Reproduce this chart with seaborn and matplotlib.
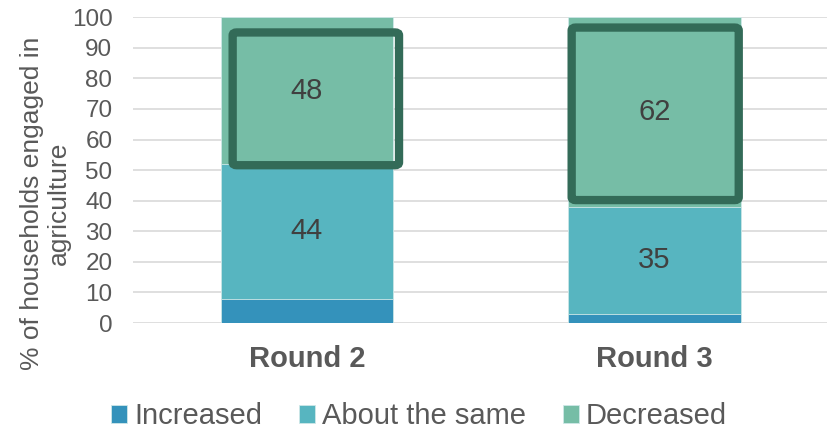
import numpy as np
import pandas as pd
import matplotlib
matplotlib.use("Agg")
import matplotlib.pyplot as plt
from matplotlib.patches import FancyBboxPatch
import seaborn as sns

rounds = ["Round 2", "Round 3"]
increased = [8, 3]
about_same = [44, 35]
decreased = [48, 62]
series_names = ["Increased", "About the same", "Decreased"]
colors = ["#3492BB", "#57B5C0", "#76BDA6"]
highlight = "#336B58"
text_color = "#595959"

sns.set_theme(style="white")
plt.rcParams["font.family"] = ["Liberation Sans", "DejaVu Sans"]

fig = plt.figure(figsize=(8.28, 4.29), dpi=100)
ax = fig.add_axes([0.161, 0.247, 0.839, 0.713])

inc = np.array(increased, dtype=float)
same = np.array(about_same, dtype=float)
dec = np.array(decreased, dtype=float)
layers = [inc, inc + same, inc + same + dec]

# Draw cumulative tops from largest to smallest so each segment shows as stacked
for name, top, color in reversed(list(zip(series_names, layers, colors))):
    df = pd.DataFrame({"round": rounds, "value": top})
    sns.barplot(data=df, x="round", y="value", color=color, width=0.497,
                saturation=1, ax=ax, label=name, edgecolor="#CFE8E8",
                linewidth=0.6, zorder=2)

# Value labels for the two larger segments
for i in range(len(rounds)):
    ax.text(i, inc[i] + same[i] / 2, f"{about_same[i]:g}", ha="center",
            va="center", fontsize=21, color="#404040", zorder=5)
    ax.text(i, inc[i] + same[i] + dec[i] / 2, f"{decreased[i]:g}",
            ha="center", va="center", fontsize=21, color="#404040", zorder=5)

# Outline boxes emphasising the "Decreased" shares
boxes = [(-0.214, 51.6, 0.479, 43.4), (1 - 0.238, 40.2, 0.481, 56.4)]
for x0, y0, w, h in boxes:
    ax.add_patch(FancyBboxPatch((x0, y0), w, h,
                                boxstyle="round,pad=0,rounding_size=0.012",
                                mutation_aspect=80,
                                fill=False, edgecolor=highlight, linewidth=6,
                                zorder=4))

ax.set_xlim(-0.5, 1.5)
ax.set_ylim(0, 100)
ax.set_yticks(range(0, 101, 10))
ax.yaxis.grid(True, color="#D9D9D9", linewidth=1.2, zorder=0)
ax.set_axisbelow(True)
for s in ax.spines.values():
    s.set_visible(False)
ax.tick_params(axis="both", length=0, colors=text_color)
ax.tick_params(axis="y", labelsize=17.5, pad=15)
ax.tick_params(axis="x", labelsize=21, pad=16)
for lbl in ax.get_xticklabels():
    lbl.set_fontweight("bold")
    lbl.set_color(text_color)
ax.set_xlabel("")
ax.set_ylabel("% of households engaged in\nagriculture", fontsize=19,
              color=text_color, linespacing=1.12, va="center")
ax.yaxis.set_label_coords(-0.1265, 0.392)

handles, labels = ax.get_legend_handles_labels()
order = [labels.index(n) for n in series_names]
leg = ax.legend([handles[k] for k in order], [labels[k] for k in order],
                loc="center", bbox_to_anchor=(0.4115, -0.305), ncol=3,
                frameon=False, fontsize=21, handlelength=0.55,
                handleheight=0.55, handletextpad=0.25, columnspacing=1.25,
                labelcolor=text_color)

fig.savefig("out.png", dpi=100)
